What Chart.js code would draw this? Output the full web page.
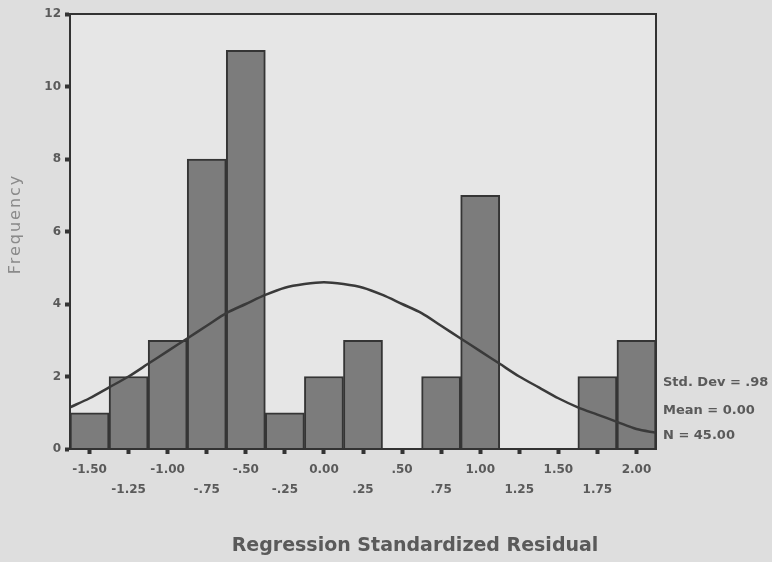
<!DOCTYPE html>
<html>
<head>
<meta charset="utf-8">
<script src="https://cdn.jsdelivr.net/npm/chart.js@4"></script>
<style>
  html, body { margin: 0; padding: 0; background: #dedede; }
  #wrap { width: 772px; height: 562px; position: relative; }
</style>
</head>
<body>
<div id="wrap"><canvas id="c" width="772" height="562"></canvas></div>
<script>
// ---- data ----
const binLabels = ['-1.50','-1.25','-1.00','-.75','-.50','-.25','0.00','.25','.50','.75','1.00','1.25','1.50','1.75','2.00'];
const frequencies = [1, 2, 3, 8, 11, 1, 2, 3, 0, 2, 7, 0, 0, 2, 3];
const curveX = [-1.625,-1.5,-1.375,-1.25,-1.125,-1.0,-0.875,-0.75,-0.625,-0.5,-0.375,-0.25,-0.125,0,0.125,0.25,0.375,0.5,0.625,0.75,0.875,1.0,1.125,1.25,1.375,1.5,1.625,1.75,1.875,2.0,2.125];
const curveY = [1.15,1.4,1.7,2.0,2.35,2.7,3.05,3.4,3.75,4.0,4.25,4.45,4.55,4.6,4.55,4.45,4.25,4.0,3.75,3.4,3.05,2.7,2.35,2.0,1.7,1.4,1.15,0.95,0.75,0.55,0.45];
const yMax = 12;
const yStep = 2;
const statLines = ['Std. Dev = .98', 'Mean = 0.00', 'N = 45.00'];
const xTitle = 'Regression Standardized Residual';
const yTitle = 'Frequency';

const TEXT = '#5a5a5a';
const DARK = '#333333';

const decor = {
  id: 'decor',
  beforeDraw(chart) {
    const {ctx, chartArea: a} = chart;
    ctx.save();
    ctx.fillStyle = '#e6e6e6';
    ctx.fillRect(a.left, a.top, a.right - a.left, a.bottom - a.top);
    ctx.restore();
  },
  afterDraw(chart) {
    const {ctx, chartArea: a} = chart;
    ctx.save();
    ctx.strokeStyle = DARK;
    ctx.lineWidth = 2;
    ctx.strokeRect(a.left, a.top, a.right - a.left, a.bottom - a.top);
    ctx.fillStyle = TEXT;
    ctx.font = 'bold 19px "DejaVu Sans"';
    ctx.textAlign = 'center';
    ctx.textBaseline = 'middle';
    ctx.fillText(xTitle, 415, 546);
    ctx.save();
    ctx.translate(16, 224);
    ctx.rotate(-Math.PI / 2);
    ctx.fillStyle = '#8a8a8a';
    ctx.font = '16px "DejaVu Sans"';
    try { ctx.letterSpacing = '2px'; } catch (e) {}
    ctx.fillText(yTitle, 0, 0);
    ctx.restore();
    ctx.fillStyle = TEXT;
    ctx.font = 'bold 13px "DejaVu Sans"';
    ctx.textAlign = 'left';
    const ys = [383, 411, 436];
    statLines.forEach((t, i) => ctx.fillText(t, 663, ys[i]));
    ctx.restore();
  }
};

new Chart(document.getElementById('c'), {
  type: 'bar',
  data: {
    labels: binLabels,
    datasets: [
      {
        type: 'bar',
        data: frequencies,
        xAxisID: 'x',
        backgroundColor: '#7c7c7c',
        borderColor: '#353535',
        borderWidth: 2,
        barPercentage: 1,
        categoryPercentage: 1,
        grouped: false,
        order: 1
      },
      {
        type: 'line',
        data: curveX.map((x, i) => ({x: x, y: curveY[i]})),
        xAxisID: 'x2',
        borderColor: '#3a3a3a',
        borderWidth: 2.5,
        pointRadius: 0,
        tension: 0.3,
        fill: false,
        order: 0
      }
    ]
  },
  plugins: [decor],
  options: {
    responsive: false,
    animation: false,
    layout: { padding: { top: 14, right: 116, bottom: 0, left: 0 } },
    plugins: { legend: { display: false }, tooltip: { enabled: false }, title: { display: false } },
    scales: {
      x: {
        type: 'category',
        offset: true,
        grid: { display: true, drawOnChartArea: false, offset: false, tickLength: 5, tickWidth: 4, tickColor: DARK },
        border: { display: true, color: DARK, width: 2 },
        ticks: {
          autoSkip: false,
          maxRotation: 0,
          minRotation: 0,
          padding: 6,
          color: TEXT,
          font: { family: 'DejaVu Sans', size: 12, weight: 'bold', lineHeight: 1.65 },
          callback: function (v, i) { return i % 2 === 0 ? binLabels[i] : ['', binLabels[i]]; }
        },
        afterFit: function (s) { s.height = 113; }
      },
      x2: {
        type: 'linear',
        display: false,
        offset: false,
        min: -1.625,
        max: 2.125
      },
      y: {
        min: 0,
        max: yMax,
        ticks: { stepSize: yStep, padding: 4, color: TEXT, font: { family: 'DejaVu Sans', size: 12, weight: 'bold' } },
        grid: { display: true, drawOnChartArea: false, tickLength: 5, tickWidth: 4, tickColor: DARK },
        border: { display: true, color: DARK, width: 2 },
        afterFit: function (s) { s.width = 70; }
      }
    }
  }
});
</script>
</body>
</html>
